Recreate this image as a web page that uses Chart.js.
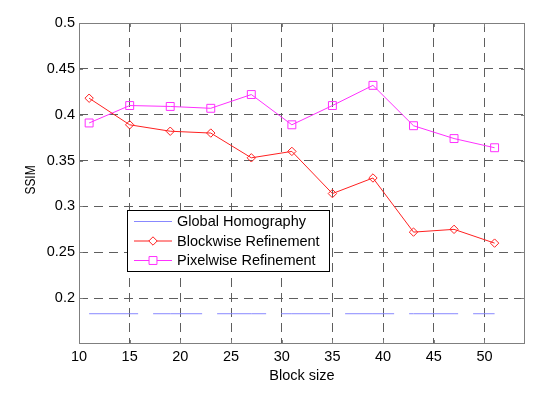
<!DOCTYPE html>
<html>
<head>
<meta charset="utf-8">
<script src="https://cdn.jsdelivr.net/npm/chart.js@4"></script>
<style>
html,body{margin:0;padding:0;background:#fff;}
canvas{display:block;}
</style>
</head>
<body>
<canvas id="c" width="550" height="395"></canvas>
<script>
const blockSizes = [11, 15, 19, 23, 27, 31, 35, 39, 43, 47, 51];
const globalHomography = [0.183, 0.183, 0.183, 0.183, 0.183, 0.183, 0.183, 0.183, 0.183, 0.183, 0.183];
const blockwise = [0.418, 0.389, 0.382, 0.380, 0.353, 0.360, 0.314, 0.331, 0.272, 0.275, 0.260];
const pixelwise = [0.391, 0.410, 0.409, 0.407, 0.422, 0.389, 0.410, 0.432, 0.388, 0.374, 0.364];
const xTicks = [10, 15, 20, 25, 30, 35, 40, 45, 50];
const yTicks = [0.2, 0.25, 0.3, 0.35, 0.4, 0.45, 0.5];
const seriesNames = ['Global Homography', 'Blockwise Refinement', 'Pixelwise Refinement'];

const FONT = '"Liberation Sans", Arial, sans-serif';
const pts = arr => blockSizes.map((x, i) => ({x: x, y: arr[i]}));

const extras = {
  id: 'extras',
  afterDatasetsDraw(chart) {
    const ctx = chart.ctx, a = chart.chartArea;
    const xs = chart.scales.x, ys = chart.scales.y;
    ctx.save();
    // box
    ctx.strokeStyle = '#7f7f7f';
    ctx.lineWidth = 1;
    ctx.strokeRect(a.left + 0.5, a.top + 0.5, a.right - a.left - 1, a.bottom - a.top - 1);
    // inward ticks
    ctx.beginPath();
    xTicks.forEach(v => {
      const px = Math.round(xs.getPixelForValue(v)) + 0.5;
      ctx.moveTo(px, a.bottom); ctx.lineTo(px, a.bottom - 4);
      ctx.moveTo(px, a.top); ctx.lineTo(px, a.top + 4);
    });
    yTicks.forEach(v => {
      const py = Math.round(ys.getPixelForValue(v)) + 0.5;
      ctx.moveTo(a.left, py); ctx.lineTo(a.left + 4, py);
      ctx.moveTo(a.right, py); ctx.lineTo(a.right - 4, py);
    });
    ctx.stroke();
    // axis titles
    ctx.fillStyle = '#000';
    ctx.font = '14.5px ' + FONT;
    ctx.textAlign = 'center';
    ctx.textBaseline = 'middle';
    ctx.fillText('Block size', (a.left + a.right) / 2, 376);
    ctx.save();
    ctx.translate(31, 180);
    ctx.rotate(-Math.PI / 2);
    ctx.scale(0.82, 1);
    ctx.fillText('SSIM', 0, 0);
    ctx.restore();
    // legend
    const lx = 127, ly = 210, lw = 202, lh = 61;
    ctx.fillStyle = '#fff';
    ctx.fillRect(lx, ly, lw, lh);
    ctx.strokeStyle = '#000';
    ctx.strokeRect(lx + 0.5, ly + 0.5, lw, lh);
    const rows = [221.5, 241, 260.5];
    const ds = chart.data.datasets;
    rows.forEach((ry, i) => {
      const d = ds[i];
      ctx.strokeStyle = d.borderColor;
      ctx.lineWidth = 1;
      ctx.setLineDash([]);
      ctx.beginPath();
      ctx.moveTo(134, ry); ctx.lineTo(172, ry);
      ctx.stroke();
      if (d.pointRadius > 0) {
        ctx.fillStyle = '#fff';
        ctx.strokeStyle = d.borderColor;
        Chart.helpers.drawPoint(ctx, {pointStyle: d.pointStyle, radius: d.pointRadius, borderWidth: 1, rotation: 0}, 153, ry);
      }
      ctx.fillStyle = '#000';
      ctx.textAlign = 'left';
      ctx.font = '14.5px ' + FONT;
      ctx.fillText(seriesNames[i], 177, ry + 0.5);
    });
    ctx.restore();
  }
};

new Chart(document.getElementById('c'), {
  type: 'line',
  data: {
    datasets: [
      {label: seriesNames[0], data: pts(globalHomography), borderColor: '#8888ff', backgroundColor: '#8888ff',
       borderWidth: 1, borderDash: [49, 15], pointRadius: 0, pointStyle: 'line', tension: 0, fill: false},
      {label: seriesNames[1], data: pts(blockwise), borderColor: '#ff2020', backgroundColor: 'rgba(0,0,0,0)',
       borderWidth: 1, pointStyle: 'rectRot', pointRadius: 4.2, pointBorderWidth: 1, pointBorderColor: '#ff2020',
       pointBackgroundColor: 'rgba(0,0,0,0)', tension: 0, fill: false},
      {label: seriesNames[2], data: pts(pixelwise), borderColor: '#ff30ff', backgroundColor: 'rgba(0,0,0,0)',
       borderWidth: 1, pointStyle: 'rect', pointRadius: 5.6, pointBorderWidth: 1, pointBorderColor: '#ff30ff',
       pointBackgroundColor: 'rgba(0,0,0,0)', tension: 0, fill: false}
    ]
  },
  options: {
    responsive: false,
    animation: false,
    devicePixelRatio: 1,
    layout: {padding: {top: 23, right: 25, left: 0, bottom: 0}},
    plugins: {legend: {display: false}, tooltip: {enabled: false}},
    scales: {
      x: {
        type: 'linear', min: 10, max: 54,
        afterBuildTicks: s => { s.ticks = xTicks.map(v => ({value: v})); },
        afterFit: s => { s.height = 51; },
        ticks: {color: '#000', font: {family: FONT, size: 14.5}, padding: 4, maxRotation: 0, autoSkip: false},
        grid: {color: '#5e5e5e', lineWidth: 1, drawTicks: false},
        border: {display: false, dash: [9, 6]}
      },
      y: {
        type: 'linear', min: 0.15, max: 0.5,
        afterBuildTicks: s => { s.ticks = yTicks.map(v => ({value: v})); },
        afterFit: s => { s.width = 79; },
        ticks: {color: '#000', font: {family: FONT, size: 14.5}, padding: 4, autoSkip: false,
                callback: v => String(Math.round(v * 100) / 100)},
        grid: {color: '#5e5e5e', lineWidth: 1, drawTicks: false},
        border: {display: false, dash: [9, 6]}
      }
    }
  },
  plugins: [extras]
});
</script>
</body>
</html>
